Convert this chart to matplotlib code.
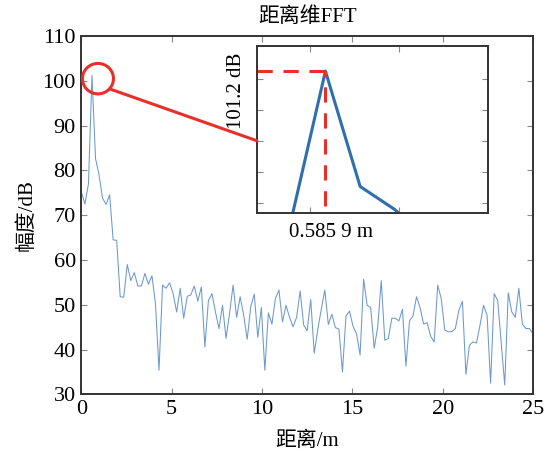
import numpy as np
import matplotlib
matplotlib.use("Agg")
import matplotlib.pyplot as plt
from matplotlib.patches import Ellipse, ConnectionPatch

plt.rcParams['font.family'] = ['Liberation Serif', 'Noto Sans CJK SC']
plt.rcParams['mathtext.fontset'] = 'stix'

# Range-FFT magnitude (dB), one value per range bin
range_bin = 25.0 / 128.0
magnitude_db = [
    75.2, 72.5, 77.0, 101.2, 82.7, 79.0, 73.8, 72.4, 74.6, 64.5,
    64.4, 51.8, 51.7, 59.0, 55.4, 57.2, 54.2, 54.2, 57.0, 54.6,
    56.5, 50.2, 35.4, 54.4, 53.7, 54.9, 52.5, 48.4, 53.7, 47.0,
    51.9, 52.2, 54.2, 50.8, 54.0, 40.6, 50.9, 52.5, 48.4, 44.7,
    49.9, 42.5, 48.1, 54.4, 47.2, 51.8, 47.7, 42.3, 49.6, 52.4,
    42.7, 49.4, 35.4, 48.2, 45.7, 51.4, 53.3, 46.2, 49.9, 47.2,
    45.1, 47.2, 53.1, 45.5, 44.2, 51.2, 39.2, 44.5, 49.0, 53.3,
    45.6, 47.9, 44.9, 44.6, 35.0, 47.5, 48.6, 45.2, 43.5, 38.8,
    55.7, 49.9, 49.4, 40.3, 45.1, 55.4, 42.1, 42.5, 47.0, 47.0,
    46.4, 49.0, 36.3, 46.4, 47.5, 51.8, 49.4, 45.7, 46.0, 43.0,
    41.7, 54.4, 51.4, 44.4, 44.0, 44.0, 44.7, 48.8, 50.8, 34.5,
    41.0, 41.7, 41.5, 45.5, 49.9, 47.7, 32.5, 52.5, 51.0, 41.4,
    32.1, 52.7, 48.4, 47.2, 53.7, 45.7, 44.7, 44.7, 43.5,
]
distance_m = np.arange(len(magnitude_db)) * range_bin

x_ticks = [0, 5, 10, 15, 20, 25]
y_ticks = [30, 40, 50, 60, 70, 80, 90, 100, 110]

peak_idx = int(np.argmax(magnitude_db))
peak_x = distance_m[peak_idx]
peak_y = magnitude_db[peak_idx]

fig = plt.figure(figsize=(5.5, 4.57), dpi=100)
ax = fig.add_axes([0.148, 0.137, 0.821, 0.784])

ax.plot(distance_m, magnitude_db, color='#6b98d2', lw=0.75)
ax.set_xlim(0, 25)
ax.set_ylim(30, 110)
ax.set_xticks(x_ticks)
ax.set_yticks(y_ticks)
ax.tick_params(direction='in', top=True, right=True, length=4, width=0.8,
               color='#888888', labelsize=16, pad=4)
for s in ax.spines.values():
    s.set_linewidth(1.4)
    s.set_color('#333333')
ax.set_title('距离维FFT', fontsize=15, pad=10)
ax.set_xlabel('距离/m', fontsize=15, labelpad=9)
ax.set_ylabel('幅度/dB', fontsize=15, labelpad=4)

# Marker around the peak
circ = Ellipse((peak_x + 0.33, peak_y - 0.7), 1.72, 6.8, fill=False,
               edgecolor='#e8302a', lw=2.2, zorder=5)
ax.add_patch(circ)

# Zoomed view of the peak
axin = fig.add_axes([0.467, 0.5346, 0.420, 0.3645])
axin.plot(distance_m, magnitude_db, color='#2f6fb0', lw=2.2)
axin.set_xlim(0.2, 1.5)
axin.set_ylim(78.5, 105.2)
axin.set_xticks([0.5, 1.0, 1.5])
axin.set_yticks([80, 85, 90, 95, 100])
axin.tick_params(direction='in', top=True, right=True, length=4, width=0.8,
                 color='#888888', labelbottom=False, labelleft=False)
for s in axin.spines.values():
    s.set_linewidth(1.4)
    s.set_color('#333333')
axin.plot([0.2, peak_x], [peak_y, peak_y], color='#e8302a', lw=2.2,
          dashes=(5, 3.5))
axin.plot([peak_x, peak_x], [79.6, peak_y], color='#e8302a', lw=2.2,
          dashes=(5, 3.5))
axin.annotate(f'{peak_y:.1f} dB', xy=(0, peak_y),
              xycoords=('axes fraction', 'data'), xytext=(-15, -14),
              textcoords='offset points', rotation=90, ha='center',
              va='center', fontsize=15)
axin.annotate('0.585 9 m', xy=(peak_x, 0), xycoords=('data', 'axes fraction'),
              xytext=(4, -14), textcoords='offset points', ha='center',
              va='center', fontsize=15)

# Leader line from the circle to the zoomed view
a, b = 1.72 / 2, 6.8 / 2
ang = np.deg2rad(-42)
start = (peak_x + 0.33 + a * np.cos(ang), peak_y - 0.7 + b * np.sin(ang))
con = ConnectionPatch(xyA=start, coordsA=ax.transData,
                      xyB=(0, 0.432), coordsB=axin.transAxes,
                      color='#e8302a', lw=2.2, zorder=6)
fig.add_artist(con)

fig.savefig('out.png', dpi=100)
